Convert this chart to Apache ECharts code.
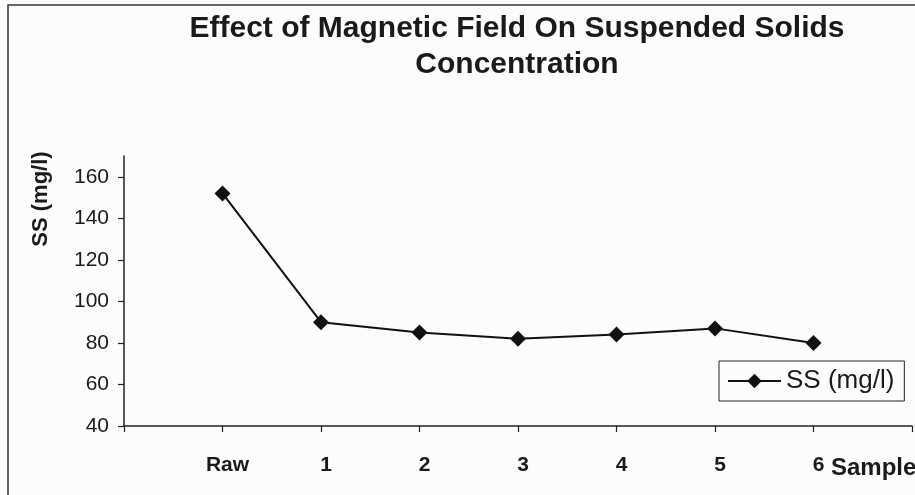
<!DOCTYPE html>
<html>
<head>
<meta charset="utf-8">
<script src="https://cdn.jsdelivr.net/npm/echarts@6/dist/echarts.min.js"></script>
<style>
html,body{margin:0;padding:0;background:#fcfcfc;}
#chart{width:915px;height:495px;}
</style>
</head>
<body>
<div id="chart"></div>
<script>
// ---- data ----
var categories = ['Raw', '1', '2', '3', '4', '5', '6'];
var ssValues = [152, 90, 85, 82, 84, 87, 80];
var yTickValues = [40, 60, 80, 100, 120, 140, 160];
var seriesName = 'SS (mg/l)';
var titleText = 'Effect of Magnetic Field On Suspended Solids\nConcentration';
var xAxisTitle = 'Sample';
var yAxisTitle = 'SS (mg/l)';

var xIndexTicks = categories.map(function (c, i) { return i; });
var seriesData = ssValues.map(function (v, i) { return [i, v]; });

var ink = '#1a1a1a';
var chart = echarts.init(document.getElementById('chart'), null, {renderer: 'canvas'});
chart.setOption({
  backgroundColor: '#fcfcfc',
  animation: false,
  title: [{
    text: titleText,
    left: 517,
    top: 11,
    padding: 0,
    textAlign: 'center',
    textStyle: {fontFamily: 'Liberation Sans, Arial, sans-serif', fontWeight: 'bold', fontSize: 30, lineHeight: 36, color: ink}
  }, {
    text: xAxisTitle,
    left: 831,
    top: 456,
    padding: 0,
    textStyle: {fontFamily: 'Liberation Sans, Arial, sans-serif', fontWeight: 'bold', fontSize: 24, color: ink}
  }],
  graphic: [{
    type: 'rect',
    shape: {x: 8, y: 5, width: 1000, height: 1000},
    style: {fill: null, stroke: '#333', lineWidth: 1.5},
    silent: true
  }, {
    type: 'text',
    x: 41, y: 199,
    rotation: Math.PI / 2,
    style: {text: yAxisTitle, align: 'center', verticalAlign: 'middle',
      font: 'bold 22px "Liberation Sans", Arial, sans-serif', fill: ink}
  }],
  legend: {
    left: 719,
    top: 361,
    padding: [7, 10, 7, 8],
    borderColor: '#222',
    borderWidth: 1,
    borderRadius: 0,
    itemWidth: 53,
    itemHeight: 18,
    itemGap: 5,
    lineStyle: {width: 2},
    textStyle: {fontFamily: 'Liberation Sans, Arial, sans-serif', fontSize: 26, color: ink},
    data: [seriesName]
  },
  grid: {left: 124, right: 3, top: 156, bottom: 69, containLabel: false},
  xAxis: {
    type: 'value',
    min: -1,
    max: 7,
    interval: 1,
    splitLine: {show: false},
    axisLine: {show: true, onZero: false, lineStyle: {color: '#222', width: 1.5}},
    axisTick: {show: true, inside: false, length: 6, lineStyle: {color: '#222', width: 1.2}},
    axisLabel: {
      customValues: xIndexTicks,
      margin: 29,
      padding: [0, 0, 0, 10],
      fontFamily: 'Liberation Sans, Arial, sans-serif',
      fontWeight: 'bold',
      fontSize: 21,
      color: ink,
      formatter: function (v) { return categories[v] !== undefined ? categories[v] : ''; }
    }
  },
  yAxis: {
    type: 'value',
    min: 40,
    max: 170,
    interval: 20,
    splitLine: {show: false},
    axisLine: {show: true, onZero: false, lineStyle: {color: '#222', width: 1.5}},
    axisTick: {show: true, inside: false, length: 6, customValues: yTickValues, lineStyle: {color: '#222', width: 1.2}},
    axisLabel: {
      customValues: yTickValues,
      margin: 15,
      fontFamily: 'Liberation Sans, Arial, sans-serif',
      fontSize: 21,
      color: ink
    }
  },
  series: [{
    name: seriesName,
    type: 'line',
    data: seriesData,
    symbol: 'diamond',
    symbolSize: 16,
    lineStyle: {color: '#111', width: 2},
    itemStyle: {color: '#111'},
    z: 5
  }]
});
</script>
</body>
</html>
